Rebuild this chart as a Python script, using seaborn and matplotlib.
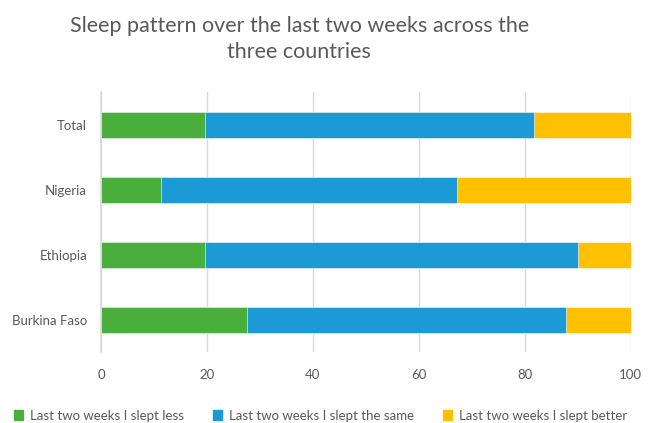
import matplotlib
matplotlib.use("Agg")
import matplotlib.pyplot as plt
import seaborn as sns
import pandas as pd
import numpy as np
from matplotlib.patches import Patch

categories = ["Total", "Nigeria", "Ethiopia", "Burkina Faso"]
slept_less = [19.6, 11.4, 19.7, 27.5]
slept_same = [62.1, 55.8, 70.4, 60.2]
slept_better = [18.3, 32.8, 9.9, 12.3]
series_names = ["Last two weeks I slept less", "Last two weeks I slept the same",
                "Last two weeks I slept better"]
colors = ["#4AAE3C", "#1C9AD6", "#FFC000"]

sns.set_style("white")
plt.rcParams["font.family"] = ["Lato", "DejaVu Sans"]
text_color = "#595959"

df = pd.DataFrame({"country": categories, "less": slept_less,
                   "same": slept_same, "better": slept_better})
df["c1"] = df["less"]
df["c2"] = df["less"] + df["same"]
df["c3"] = df["less"] + df["same"] + df["better"]

fig = plt.figure(figsize=(6.58, 4.23), dpi=100)
ax = fig.add_axes([0.1535, 0.1667, 0.805, 0.6147])

for col, c in zip(["c3", "c2", "c1"], colors[::-1]):
    sns.barplot(data=df, x=col, y="country", order=categories, color=c,
                width=0.4, ax=ax, saturation=1, edgecolor="white", linewidth=0.4)

ax.set_xlim(0, 100)
ax.set_ylim(3.5, -0.5)
ax.set_xticks([0, 20, 40, 60, 80, 100])
ax.set_xlabel("")
ax.set_ylabel("")
ax.grid(axis="x", color="#d9d9d9", linewidth=1)
ax.set_axisbelow(True)
for s in ["top", "right", "bottom"]:
    ax.spines[s].set_visible(False)
ax.spines["left"].set_color("#d9d9d9")
ax.spines["left"].set_linewidth(1.2)
ax.tick_params(axis="x", length=0, labelsize=9.5, labelcolor=text_color, pad=12)
ax.tick_params(axis="y", length=0, labelsize=9.5, labelcolor=text_color, pad=10)

fig.text(0.455, 0.962, "Sleep pattern over the last two weeks across the\nthree countries",
         ha="center", va="top", fontsize=15.5, color=text_color, linespacing=1.4)

handles = [Patch(facecolor=c, edgecolor=c) for c in colors]
fig.legend(handles, series_names, loc="lower center", bbox_to_anchor=(0.487, -0.025),
           ncol=3, frameon=False, fontsize=9.5, labelcolor=text_color,
           handlelength=0.7, handleheight=0.7, handletextpad=0.5, columnspacing=2.2)

fig.savefig("out.png", dpi=100)
